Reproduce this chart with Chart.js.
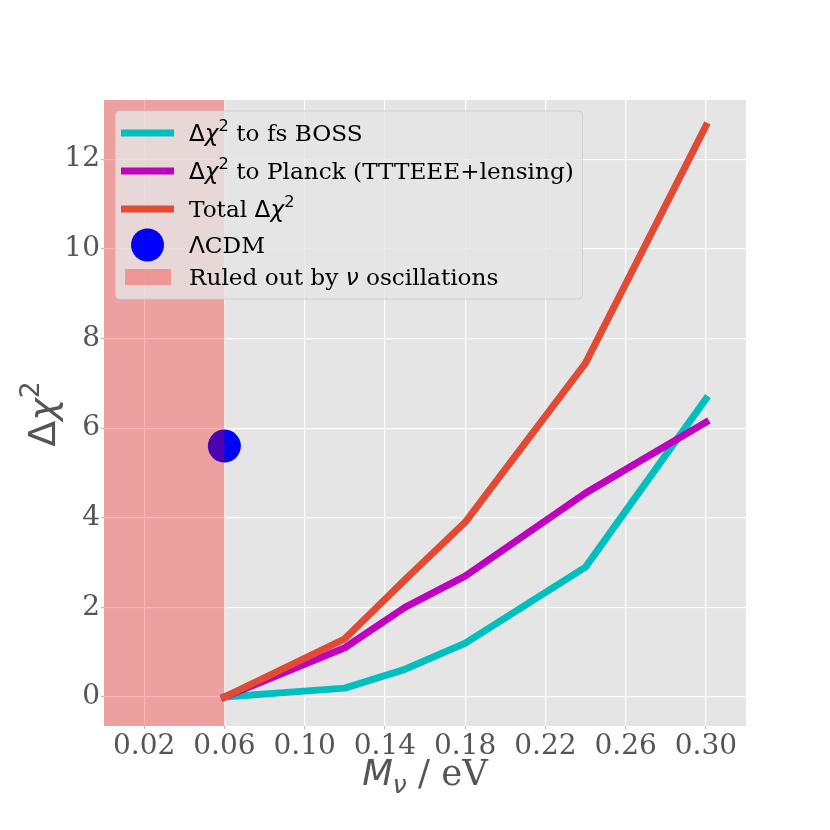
<!DOCTYPE html>
<html><head><meta charset="utf-8">
<script src="https://cdn.jsdelivr.net/npm/chart.js@4.4.0/dist/chart.umd.min.js"></script>
<style>html,body{margin:0;padding:0;background:#fff}#wrap{width:830px;height:830px}</style>
</head><body>
<div id="wrap"><canvas id="c" width="830" height="830"></canvas></div>
<script>
// ---- data ----
const masses = [0.06, 0.12, 0.15, 0.18, 0.24, 0.30];
const chi2Boss = [0, 0.2, 0.62, 1.2, 2.9, 6.65];
const chi2Planck = [0, 1.1, 2.0, 2.7, 4.55, 6.13];
const chi2Total = [0, 1.3, 2.62, 3.9, 7.45, 12.74];
const lcdmMass = [0.06];
const lcdmChi2 = [5.6];
const excludedRange = [0, 0.06];
const xTicks = [0.02, 0.06, 0.10, 0.14, 0.18, 0.22, 0.26, 0.30];
const xTickLabels = ['0.02', '0.06', '0.10', '0.14', '0.18', '0.22', '0.26', '0.30'];
const yTicks = [0, 2, 4, 6, 8, 10, 12];
const yTickLabels = ['0', '2', '4', '6', '8', '10', '12'];
const seriesNames = ['Δχ² to fs BOSS', 'Δχ² to Planck (TTTEEE+lensing)', 'Total Δχ²', 'ΛCDM', 'Ruled out by ν oscillations'];
const xTitle = 'Mν / eV';
const yTitle = 'Δχ²';

// ---- styles ----
const C_CYAN = '#00bfbf', C_MAG = '#bf00bf', C_RED = '#E24A33', C_BLUE = '#0000ff';
const SPAN_FILL = 'rgba(255,0,0,0.3)';
const TICK_COLOR = '#555555';

function fontFor(k, s) {
  if (k === 'it') return `italic ${s}px "DejaVu Sans"`;
  if (k === 'math') return `${s}px "DejaVu Sans"`;
  return `${s}px "DejaVu Serif"`;
}
function parseRich(str) {
  const runs = [];
  for (const ch of str) {
    let r;
    if (ch === 'Δ' || ch === 'Λ') r = {t: ch, k: 'math'};
    else if (ch === 'χ' || ch === 'ν') r = {t: ch, k: 'it'};
    else if (ch === '²') r = {t: '2', k: 'math', sup: true};
    else r = {t: ch, k: 'serif'};
    const last = runs[runs.length - 1];
    if (last && last.k === r.k && !!last.sup === !!r.sup && !!last.sub === !!r.sub) last.t += r.t;
    else runs.push(r);
  }
  return runs;
}
function runSize(r, s) { return (r.sup || r.sub) ? s * 0.7 : s; }
function richWidth(ctx, runs, s) {
  let w = 0;
  for (const r of runs) { ctx.font = fontFor(r.k, runSize(r, s)); w += ctx.measureText(r.t).width; }
  return w;
}
function drawRich(ctx, runs, x, y, s) {
  ctx.textBaseline = 'alphabetic';
  ctx.textAlign = 'left';
  for (const r of runs) {
    ctx.font = fontFor(r.k, runSize(r, s));
    const dy = r.sup ? -s * 0.42 : (r.sub ? s * 0.22 : 0);
    ctx.fillText(r.t, x, y + dy);
    x += ctx.measureText(r.t).width;
  }
}

const bgPlugin = {
  id: 'bg',
  beforeDraw(chart) {
    const {ctx, chartArea: a} = chart;
    ctx.save();
    ctx.fillStyle = '#ffffff';
    ctx.fillRect(0, 0, chart.width, chart.height);
    ctx.fillStyle = '#E5E5E5';
    ctx.fillRect(a.left, a.top, a.right - a.left, a.bottom - a.top);
    ctx.restore();
  },
  afterDatasetDraw(chart, args) {
    if (chart.data.datasets[args.index].isMarker !== true) return;
    const {ctx, chartArea: a, scales} = chart;
    const x0 = scales.x.getPixelForValue(excludedRange[0]);
    const x1 = scales.x.getPixelForValue(excludedRange[1]);
    ctx.save();
    ctx.fillStyle = SPAN_FILL;
    ctx.fillRect(x0, a.top, x1 - x0, a.bottom - a.top);
    ctx.restore();
  }
};

const titlesPlugin = {
  id: 'titles',
  afterDraw(chart) {
    const {ctx, chartArea: a} = chart;
    ctx.save();
    ctx.fillStyle = TICK_COLOR;
    const s = 35.5;
    const xr = [{t: 'M', k: 'it'}, {t: 'ν', k: 'it', sub: true}, {t: ' / eV', k: 'serif'}];
    const w = richWidth(ctx, xr, s);
    drawRich(ctx, xr, (a.left + a.right) / 2 - w / 2, 785, s);
    const sy = 38;
    const yr = parseRich(yTitle);
    const wy = richWidth(ctx, yr, sy);
    ctx.translate(55, (a.top + a.bottom) / 2 + 1);
    ctx.rotate(-Math.PI / 2);
    drawRich(ctx, yr, -wy / 2, 0, sy);
    ctx.restore();
  }
};

const legendPlugin = {
  id: 'customLegend',
  afterDraw(chart) {
    const {ctx} = chart;
    const bx = 115.5, by = 111, bw = 467, bh = 188, rad = 4;
    ctx.save();
    ctx.beginPath();
    ctx.roundRect(bx, by, bw, bh, rad);
    ctx.fillStyle = 'rgba(229,229,229,0.8)';
    ctx.fill();
    ctx.lineWidth = 1;
    ctx.strokeStyle = 'rgba(204,204,204,0.8)';
    ctx.stroke();
    const rows = [133, 171, 209, 245, 277];
    const hx0 = 121, hx1 = 174, tx = 189, fs = 23.2;
    const ds = chart.data.datasets;
    const entries = [ds[0], ds[1], ds[2], ds[3], null];
    entries.forEach((d, i) => {
      const yc = rows[i];
      if (d && !d.isMarker) {
        ctx.beginPath();
        ctx.moveTo(hx0 + 3.5, yc);
        ctx.lineTo(hx1 - 3.5, yc);
        ctx.strokeStyle = d.borderColor;
        ctx.lineWidth = 7;
        ctx.lineCap = 'square';
        ctx.stroke();
      } else if (d && d.isMarker) {
        ctx.beginPath();
        ctx.arc((hx0 + hx1) / 2, yc, d.pointRadius, 0, Math.PI * 2);
        ctx.fillStyle = d.backgroundColor;
        ctx.fill();
      } else {
        ctx.fillStyle = SPAN_FILL;
        ctx.fillRect(125, yc - 8, 46, 16);
      }
      ctx.fillStyle = '#000';
      drawRich(ctx, parseRich(seriesNames[i]), tx, yc + 8, fs);
    });
    ctx.restore();
  }
};

function pts(xs, ys) { return xs.map((x, i) => ({x: x, y: ys[i]})); }
const lineCommon = {showLine: true, pointRadius: 0, pointHoverRadius: 0, borderWidth: 7, borderCapStyle: 'square', borderJoinStyle: 'round', fill: false, tension: 0};

new Chart(document.getElementById('c'), {
  type: 'scatter',
  data: {
    datasets: [
      Object.assign({label: seriesNames[0], data: pts(masses, chi2Boss), borderColor: C_CYAN, backgroundColor: C_CYAN, order: 3}, lineCommon),
      Object.assign({label: seriesNames[1], data: pts(masses, chi2Planck), borderColor: C_MAG, backgroundColor: C_MAG, order: 2}, lineCommon),
      Object.assign({label: seriesNames[2], data: pts(masses, chi2Total), borderColor: C_RED, backgroundColor: C_RED, order: 1}, lineCommon),
      {label: seriesNames[3], data: pts(lcdmMass, lcdmChi2), isMarker: true, pointRadius: 16.5, pointHoverRadius: 16.5, borderWidth: 0, backgroundColor: C_BLUE, borderColor: C_BLUE, order: 4, showLine: false}
    ]
  },
  options: {
    responsive: false,
    animation: false,
    devicePixelRatio: 1,
    layout: {padding: {left: 0, right: 84, top: 100, bottom: 0}},
    plugins: {legend: {display: false}, tooltip: {enabled: false}},
    scales: {
      x: {
        type: 'linear', min: 0, max: 0.32,
        afterBuildTicks: s => { s.ticks = xTicks.map(v => ({value: v})); },
        afterFit: s => { s.height = 104; },
        ticks: {callback: (v, i) => xTickLabels[i], color: TICK_COLOR, font: {family: 'DejaVu Serif', size: 28}, padding: 1, maxRotation: 0, autoSkip: false},
        grid: {color: '#ffffff', lineWidth: 1.2, tickColor: '#bbbbbb', tickLength: 3},
        border: {display: false}
      },
      y: {
        type: 'linear', min: -0.645, max: 13.32,
        afterBuildTicks: s => { s.ticks = yTicks.map(v => ({value: v})); },
        afterFit: s => { s.width = 104; },
        ticks: {callback: (v, i) => yTickLabels[i], color: TICK_COLOR, font: {family: 'DejaVu Serif', size: 28}, padding: 1, autoSkip: false},
        grid: {color: '#ffffff', lineWidth: 1.2, tickColor: '#bbbbbb', tickLength: 3},
        border: {display: false}
      }
    }
  },
  plugins: [bgPlugin, titlesPlugin, legendPlugin]
});
</script>
</body></html>
